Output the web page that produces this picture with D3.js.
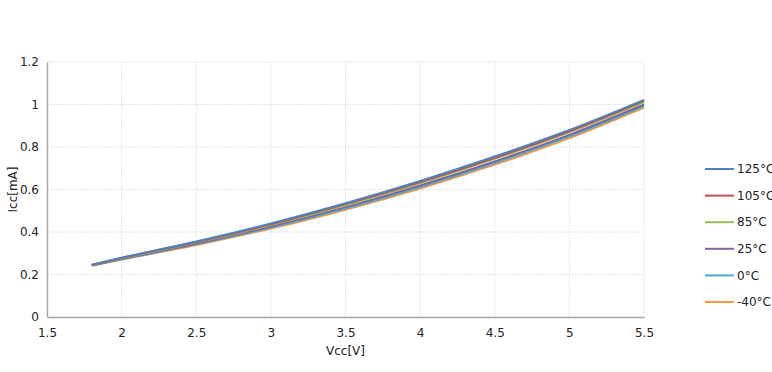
<!DOCTYPE html>
<html>
<head>
<meta charset="utf-8">
<script src="https://cdn.jsdelivr.net/npm/d3@7"></script>
<style>
  body { margin: 0; background: #fff; }
  svg text { font-family: Tahoma, "DejaVu Sans", sans-serif; fill: #222; }
</style>
</head>
<body>
<div id="chart"></div>
<script>
// supply voltage [V]
const vcc = [1.8, 2, 2.5, 3, 3.5, 4, 4.5, 5, 5.5]

const seriesNames = ["125°C", "105°C", "85°C", "25°C", "0°C", "-40°C"]
const seriesColors = ["#4f81bd", "#c0504d", "#9bbb59", "#8064a2", "#4bacc6", "#f79646"]

// supply current [mA]
const icc125 = [0.246, 0.279, 0.355, 0.440, 0.535, 0.640, 0.755, 0.880, 1.022]
const icc105 = [0.245, 0.278, 0.353, 0.436, 0.531, 0.635, 0.749, 0.874, 1.017]
const icc85  = [0.244, 0.276, 0.350, 0.433, 0.526, 0.629, 0.744, 0.869, 1.011]
const icc25  = [0.243, 0.274, 0.345, 0.426, 0.517, 0.619, 0.732, 0.857, 1.000]
const icc0   = [0.242, 0.272, 0.342, 0.421, 0.511, 0.612, 0.725, 0.850, 0.993]
const iccM40 = [0.241, 0.270, 0.339, 0.416, 0.505, 0.605, 0.717, 0.842, 0.986]

const xTicks = [1.5, 2, 2.5, 3, 3.5, 4, 4.5, 5, 5.5]
const yTicks = [0, 0.2, 0.4, 0.6, 0.8, 1, 1.2]

const allSeries = [icc125, icc105, icc85, icc25, icc0, iccM40]

let width = 772, height = 372
let margin = {top: 62, right: 128, bottom: 55, left: 47}

let svg = d3.select("#chart").append("svg")
    .attr("width", width)
    .attr("height", height)

let x = d3.scaleLinear().domain([1.5, 5.5]).range([margin.left, width - margin.right])
let y = d3.scaleLinear().domain([0, 1.2]).range([height - margin.bottom, margin.top])

// grid (light dotted, like the reference)
svg.append("g").selectAll("line.h")
    .data(yTicks.filter(d => d > 0))
    .enter().append("line")
    .attr("x1", x(1.5)).attr("x2", x(5.5))
    .attr("y1", d => y(d)).attr("y2", d => y(d))
    .attr("stroke", "#e4e4e4")
    .attr("stroke-dasharray", "2,1")

svg.append("g").selectAll("line.v")
    .data(xTicks.filter(d => d > 1.5))
    .enter().append("line")
    .attr("x1", d => x(d)).attr("x2", d => x(d))
    .attr("y1", y(0)).attr("y2", y(1.2))
    .attr("stroke", "#e4e4e4")
    .attr("stroke-dasharray", "2,1")

// axes
let xAxis = d3.axisBottom(x).tickValues(xTicks).tickSize(0).tickPadding(11).tickFormat(d3.format("~g"))
let yAxis = d3.axisLeft(y).tickValues(yTicks).tickSize(0).tickPadding(8).tickFormat(d3.format("~g"))

let gx = svg.append("g").attr("transform", `translate(0,${y(0)})`).call(xAxis)
let gy = svg.append("g").attr("transform", `translate(${x(1.5)},0)`).call(yAxis)
gx.select(".domain").attr("stroke", "#a6a6a6").attr("stroke-width", 1.5)
gy.select(".domain").attr("stroke", "#a6a6a6").attr("stroke-width", 1.5)
svg.selectAll(".tick text").style("font-size", "12px").style("font-family", "Tahoma, 'DejaVu Sans', sans-serif").attr("fill", "#222")

// axis titles
svg.append("text")
    .attr("x", x(3.5)).attr("y", 355)
    .attr("text-anchor", "middle")
    .style("font-size", "12px")
    .text("Vcc[V]")

svg.append("text")
    .attr("transform", `translate(17,${y(0.6)}) rotate(-90)`)
    .attr("text-anchor", "middle")
    .style("font-size", "12px")
    .text("Icc[mA]")

// curves
let line = d3.line()
    .x((d, i) => x(vcc[i]))
    .y(d => y(d))
    .curve(d3.curveCatmullRom)

// draw lowest first so 125°C ends up on top
svg.append("g").selectAll("path")
    .data(allSeries.map((s, i) => ({values: s, color: seriesColors[i]})).reverse())
    .enter().append("path")
    .attr("d", d => line(d.values))
    .attr("fill", "none")
    .attr("stroke", d => d.color)
    .attr("stroke-width", 2)

// legend
let legend = svg.append("g").selectAll("g")
    .data(seriesNames)
    .enter().append("g")
    .attr("transform", (d, i) => `translate(705,${169 + i * 26.6})`)

legend.append("line")
    .attr("x1", 0).attr("x2", 29)
    .attr("stroke", (d, i) => seriesColors[i])
    .attr("stroke-width", 2)

legend.append("text")
    .attr("x", 32).attr("dy", "0.35em")
    .style("font-size", "12px")
    .text(d => d)
</script>
</body>
</html>
